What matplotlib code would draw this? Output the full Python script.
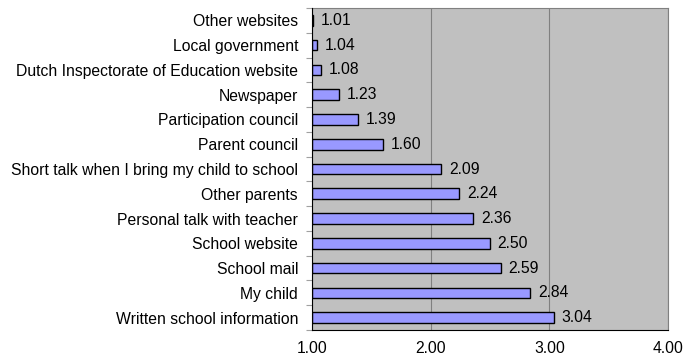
import matplotlib.pyplot as plt
import numpy as np

plt.rcParams['font.family'] = ['Liberation Sans', 'DejaVu Sans']

# bovenaan de grafiek eerst
bronnen = ["Other websites", "Local government",
           "Dutch Inspectorate of Education website", "Newspaper",
           "Participation council", "Parent council",
           "Short talk when I bring my child to school", "Other parents",
           "Personal talk with teacher", "School website", "School mail",
           "My child", "Written school information"]
scores = [1.01, 1.04, 1.08, 1.23, 1.39, 1.60, 2.09, 2.24, 2.36, 2.50, 2.59, 2.84, 3.04]
x_ticks = [1.0, 2.0, 3.0, 4.0]
basis = 1.0
fs = 11.3

fig = plt.figure(figsize=(6.83, 3.55), dpi=100)
ax = fig.add_axes([312 / 683, 25 / 355, 356 / 683, 322 / 355])
ax.set_facecolor('#C0C0C0')

n = len(bronnen)
y = np.arange(n)[::-1]
breedte = [s - basis for s in scores]
ax.barh(y, breedte, left=basis, height=0.43, color='#9999FF',
        edgecolor='black', linewidth=1.0, zorder=3)

for yy, s in zip(y, scores):
    ax.text(s + 0.065, yy, f"{s:.2f}", va='center', ha='left', fontsize=fs, zorder=4)

ax.set_xlim(1, 4)
ax.set_ylim(-0.5, n - 0.5)
ax.set_xticks(x_ticks)
ax.set_xticklabels([f"{t:.2f}" for t in x_ticks], fontsize=fs)
ax.set_yticks(y)
ax.set_yticklabels(bronnen, fontsize=fs)
ax.tick_params(axis='y', length=0, pad=10)
ax.tick_params(axis='x', length=0, pad=8)

# kleine streepjes tussen de categorieen
ax.set_yticks(np.arange(-0.5, n, 1), minor=True)
ax.tick_params(axis='y', which='minor', length=4, color='#A0A0A0', width=0.8)

ax.grid(axis='x', color='#808080', linewidth=0.8, zorder=1)
for kant in ['top', 'right']:
    ax.spines[kant].set_color('#808080')
    ax.spines[kant].set_linewidth(0.8)
ax.spines['left'].set_color('black')
ax.spines['bottom'].set_color('black')
ax.spines['left'].set_zorder(5)

fig.savefig('out.png', dpi=100)
